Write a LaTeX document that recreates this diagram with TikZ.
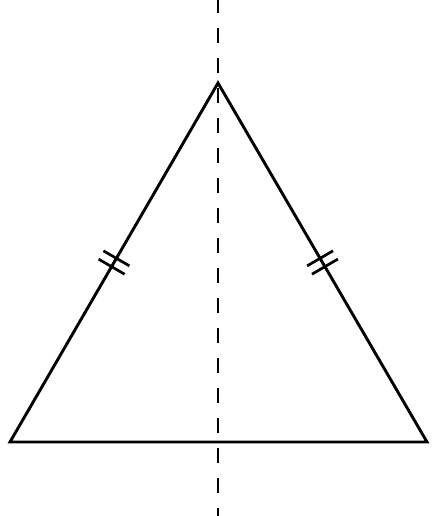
\documentclass[tikz,border=0pt]{standalone}
\usetikzlibrary{calc}
\begin{document}
\begin{tikzpicture}[x=1pt,y=1pt,
  edge/.style={line width=2.9pt,line join=miter},
  axis/.style={line width=2.9pt,dash pattern=on 15pt off 15pt},
  tick/.style={line width=2.7pt}]
\useasboundingbox (0,0) rectangle (437,516);
\clip (0,0) rectangle (437,516);
\coordinate (A) at (218,433);
\coordinate (B) at (10,74);
\coordinate (C) at (427,74);
\coordinate (T) at (218,518);
\coordinate (U) at (218,-10);
\draw[axis] (T) -- (U);
\draw[edge] (A) -- (B) -- (C) -- cycle;
\coordinate (M1) at ($(B)!0.5!(A)$);
\coordinate (M2) at ($(C)!0.5!(A)$);
\foreach \s in {-4.8,4.8}{
  \draw[tick] ($(M1)!\s pt!(A)!15pt!90:(A)$) -- ($(M1)!\s pt!(A)!15pt!-90:(A)$);
  \draw[tick] ($(M2)!\s pt!(A)!15pt!90:(A)$) -- ($(M2)!\s pt!(A)!15pt!-90:(A)$);
}
\end{tikzpicture}
\end{document}
